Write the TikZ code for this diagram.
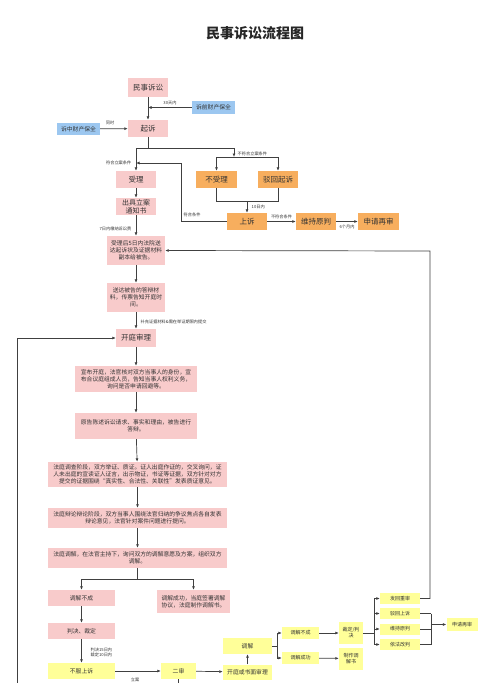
\documentclass[tikz,border=0pt]{standalone}
\usepackage{fontspec}
\setmainfont{Noto Sans CJK SC}
\usetikzlibrary{arrows.meta}
\definecolor{pinkc}{HTML}{F8CBCB}
\definecolor{orangec}{HTML}{F7AE5E}
\definecolor{bluec}{HTML}{9CC7F0}
\definecolor{yellowc}{HTML}{FFFF99}
\definecolor{linec}{HTML}{404040}
\definecolor{txtc}{HTML}{333333}
\begin{document}
\begin{tikzpicture}[x=1pt,y=-1pt,
  box/.style={inner sep=0pt, align=center, text=txtc},
  pinkbox/.style={box, fill=pinkc},
  orbox/.style={box, fill=orangec},
  blbox/.style={box, fill=bluec},
  yebox/.style={box, fill=yellowc},
  big/.style={font=\fontsize{7.5}{8.5}\selectfont},
  mid/.style={font=\fontsize{5.8}{7}\selectfont},
  sml/.style={font=\fontsize{5}{6}\selectfont},
  arr/.style={draw=linec, line width=0.7pt, -{Latex[length=3.5pt,width=3pt]}},
  ln/.style={draw=linec, line width=0.7pt},
  lbl/.style={inner sep=0.5pt, font=\fontsize{4.2}{5}\selectfont, text=txtc, align=left}
]
\useasboundingbox (0,0) rectangle (500,683);
\fill[white] (0,0) rectangle (500,683);

\node[font=\fontsize{14}{16}\selectfont\bfseries, text=black!85] (title) at (255,33) {民事诉讼流程图};

% top part
\node[pinkbox,big,minimum width=40pt,minimum height=19pt] (n1) at (148,87.5) {民事诉讼};
\node[blbox,mid,minimum width=43pt,minimum height=13pt] (bq) at (213.5,107.5) {诉前财产保全};
\node[pinkbox,big,minimum width=40pt,minimum height=17pt] (qs) at (148,128.5) {起诉};
\node[blbox,mid,minimum width=43pt,minimum height=12pt] (bz) at (78.5,129) {诉中财产保全};
\node[pinkbox,big,minimum width=40pt,minimum height=17pt] (sl) at (136,179.5) {受理};
\node[orbox,big,minimum width=41pt,minimum height=17pt] (bsl) at (216.5,179.5) {不受理};
\node[orbox,big,minimum width=40pt,minimum height=17pt] (bh) at (278,179.5) {驳回起诉};
\node[orbox,big,minimum width=40pt,minimum height=17pt] (ss) at (247,221.5) {上诉};
\node[orbox,big,minimum width=40pt,minimum height=17pt] (wc) at (316,221.5) {维持原判};
\node[orbox,big,minimum width=41pt,minimum height=17pt] (zs) at (378.5,221.5) {申请再审};
\node[pinkbox,font=\fontsize{7}{7.8}\selectfont,minimum width=40pt,minimum height=17pt] (cj) at (136,206.5) {出具立案\\通知书};

\coordinate (p1) at (148,107.5);
\coordinate (p2) at (148,148);
\coordinate (p2l) at (136,148);
\coordinate (p2r) at (234,148);
\coordinate (p3) at (234,157);
\coordinate (p3l) at (216.5,157);
\coordinate (p3r) at (278,157);
\coordinate (p4l) at (216.5,201);
\coordinate (p4r) at (278,201);
\coordinate (p4) at (247,201);
\coordinate (p5) at (181,221.5);
\coordinate (p6) at (181,163);
\coordinate (p7) at (136,163);

\draw[arr] (n1) -- (qs);
\draw[arr] (bq.west) -- (p1);
\node[lbl] at (170,103) {30天内};
\draw[arr] (bz) -- (qs);
\node[lbl] at (110,123) {同时};
\draw[ln] (qs.south) -- (p2);
\draw[ln] (p2l) -- (p2r);
\draw[arr] (p2l) -- (sl.north);
\draw[arr] (p2r) -- (p3);
\node[lbl,anchor=west] at (237,154) {不符合立案条件};
\draw[ln] (p3l) -- (p3r);
\draw[arr] (p3l) -- (bsl.north);
\draw[arr] (p3r) -- (bh.north);
\draw[ln] (bsl.south) -- (p4l) -- (p4r) -- (bh.south);
\draw[arr] (p4) -- (ss.north);
\node[lbl,anchor=west] at (251,207) {10日内};
\draw[arr] (ss.west) -- (p5) -- (p6) -- (p7);
\node[lbl,anchor=west] at (183,214.5) {符合条件};
\node[lbl,anchor=east] at (132,163) {符合立案条件};
\draw[arr] (ss) -- (wc);
\node[lbl] at (281.5,216.5) {不符合条件};
\draw[arr] (wc) -- (zs);
\node[lbl] at (347,227) {6个月内};
\draw[arr] (sl) -- (cj);

% middle column
\node[pinkbox,mid,minimum width=58pt,minimum height=29pt] (s5) at (136,250.5) {受理后5日内法院送\\达起诉状及证据材料\\副本给被告。};
\node[pinkbox,mid,minimum width=58pt,minimum height=29pt] (sd) at (136,297.5) {送达被告的答辩材\\料，传票告知开庭时\\间。};
\node[pinkbox,big,minimum width=40pt,minimum height=18pt] (kt) at (136,338) {开庭审理};
\node[pinkbox,mid,minimum width=122pt,minimum height=26pt] (xb) at (136,379) {宣布开庭，法官核对双方当事人的身份，宣\\布合议庭组成人员，告知当事人权利义务，\\询问是否申请回避等。};
\node[pinkbox,mid,minimum width=122pt,minimum height=26pt] (yg) at (136,426) {原告陈述诉讼请求、事实和理由，被告进行\\答辩。};
\node[pinkbox,mid,minimum width=179pt,minimum height=25pt] (dc) at (137.5,474.5) {法庭调查阶段，双方举证、质证。证人出庭作证的，交叉询问，证\\人未出庭的宣读证人证言，出示物证，书证等证据，双方针对对方\\提交的证据围绕“真实性、合法性、关联性”发表质证意见。};
\node[pinkbox,mid,minimum width=179pt,minimum height=20pt] (bl) at (137.5,518) {法庭辩论辩论阶段，双方当事人围绕法官归纳的争议焦点各自发表\\辩论意见，法官针对案件问题进行提问。};
\node[pinkbox,mid,minimum width=179pt,minimum height=20pt] (tj) at (137.5,558) {法庭调解，在法官主持下，询问双方的调解意愿及方案，组织双方\\调解。};
\node[pinkbox,mid,minimum width=67pt,minimum height=16pt] (tb) at (81.5,598) {调解不成};
\node[pinkbox,mid,minimum width=73pt,minimum height=23pt] (tc) at (193.5,601.5) {调解成功，当庭签署调解\\协议，法庭制作调解书。};
\node[pinkbox,mid,minimum width=67pt,minimum height=16pt] (pj) at (81.5,631) {判决、裁定};
\node[yebox,mid,minimum width=67pt,minimum height=16pt] (bf) at (81.5,671) {不服上诉};

\draw[arr] (cj) -- (s5);
\node[lbl,anchor=east] at (132,228.5) {7日内缴纳诉讼费};
\draw[arr] (s5) -- (sd);
\draw[arr] (sd) -- (kt);
\node[lbl,anchor=west] at (140,322) {补充证据材料\&需在举证期限内提交};
\draw[arr] (kt) -- (xb);
\draw[arr] (xb) -- (yg);
\draw[arr] (yg) -- (dc);
\draw[arr] (dc) -- (bl);
\draw[arr] (bl) -- (tj);
\coordinate (q1) at (137.5,579);
\coordinate (q1l) at (81.5,579);
\coordinate (q1r) at (193.5,579);
\draw[ln] (tj.south) -- (q1);
\draw[ln] (q1l) -- (q1r);
\draw[arr] (q1l) -- (tb.north);
\draw[arr] (q1r) -- (tc.north);
\draw[arr] (tb) -- (pj);
\draw[arr] (pj) -- (bf);
\node[lbl,anchor=west] at (90,652) {判决15日内\\裁定10日内};

% left return line
\coordinate (lb) at (17,683);
\coordinate (lt) at (17,338);
\draw[arr] (lb) -- (lt) -- (kt.west);

% bottom yellow part
\node[yebox,mid,minimum width=35pt,minimum height=16pt] (es) at (178.5,671) {二审};
\node[yebox,mid,minimum width=49pt,minimum height=15pt] (kts) at (247.5,672) {开庭或书面审理};
\node[yebox,mid,minimum width=49pt,minimum height=16pt] (tj2) at (247.5,646) {调解};
\node[yebox,sml,minimum width=37pt,minimum height=12pt] (tb2) at (300.5,633) {调解不成};
\node[yebox,sml,minimum width=37pt,minimum height=12pt] (tc2) at (300.5,658) {调解成功};
\node[yebox,sml,minimum width=24pt,minimum height=22pt] (cd) at (351,633) {裁定/判\\决};
\node[yebox,sml,minimum width=24pt,minimum height=22pt] (zz) at (351,658.5) {制作调\\解书};
\node[yebox,sml,minimum width=40pt,minimum height=11pt] (fh) at (400,598.5) {发回重审};
\node[yebox,sml,minimum width=40pt,minimum height=11pt] (bhs) at (400,613.5) {驳回上诉};
\node[yebox,sml,minimum width=40pt,minimum height=11pt] (wcy) at (400,629) {维持原判};
\node[yebox,sml,minimum width=40pt,minimum height=11pt] (yf) at (400,644.5) {依法改判};
\node[yebox,sml,minimum width=31pt,minimum height=13pt] (zs2) at (462,624.5) {申请再审};

\draw[arr] (bf) -- (es);
\node[lbl] at (135,680) {立案};
\coordinate (eb) at (178.5,683);
\draw[ln] (es.south) -- (eb);
\draw[arr] (es) -- (kts);
\draw[arr] (kts) -- (tj2);
\coordinate (r1) at (277,646);
\coordinate (r1t) at (277,633);
\coordinate (r1b) at (277,658);
\draw[ln] (tj2.east) -- (r1);
\draw[ln] (r1t) -- (r1b);
\draw[arr] (r1t) -- (tb2.west);
\draw[arr] (r1b) -- (tc2.west);
\draw[arr] (tb2) -- (cd);
\draw[arr] (tc2) -- (zz);
\coordinate (r2) at (374,633);
\coordinate (r2t) at (374,598.5);
\coordinate (r2b) at (374,644.5);
\draw[ln] (cd.east) -- (r2);
\draw[ln] (r2t) -- (r2b);
\draw[arr] (r2t) -- (fh.west);
\draw[arr] (374,613.5) -- (bhs.west);
\draw[arr] (374,629) -- (wcy.west);
\draw[arr] (r2b) -- (yf.west);
\coordinate (r3t) at (431,613.5);
\coordinate (r3m) at (431,624.5);
\coordinate (r3b) at (431,644.5);
\draw[ln] (bhs.east) -- (r3t);
\draw[ln] (wcy.east) -- (431,629);
\draw[ln] (yf.east) -- (r3b);
\draw[ln] (r3t) -- (r3b);
\draw[arr] (r3m) -- (zs2.west);
\coordinate (u1) at (430,598.5);
\coordinate (u2) at (430,251);
\draw[arr] (fh.east) -- (u1) -- (u2) -- (s5.east);
\end{tikzpicture}
\end{document}
